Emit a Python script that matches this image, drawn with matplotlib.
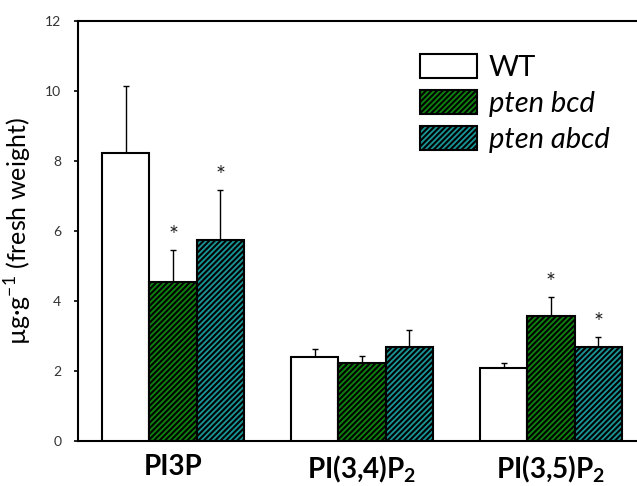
import matplotlib.pyplot as plt
import numpy as np
from matplotlib.patches import Patch

plt.rcParams['font.family'] = ['Lato', 'DejaVu Sans']
plt.rcParams['mathtext.fontset'] = 'custom'
plt.rcParams['mathtext.rm'] = 'Lato'
plt.rcParams['mathtext.bf'] = 'Lato:bold'
plt.rcParams['hatch.linewidth'] = 1.5

groups = ['PI3P', r'PI(3,4)P$_\mathbf{2}$', r'PI(3,5)P$_\mathbf{2}$']
series = ['WT', 'pten bcd', 'pten abcd']
values = {
    'WT': [8.23, 2.40, 2.09],
    'pten bcd': [4.55, 2.23, 3.57],
    'pten abcd': [5.74, 2.69, 2.69],
}
err_top = {
    'WT': [10.14, 2.63, 2.23],
    'pten bcd': [5.45, 2.43, 4.11],
    'pten abcd': [7.17, 3.17, 2.97],
}
# asterisk shown above the error bar (True) or not
signif = {
    'WT': [False, False, False],
    'pten bcd': [True, False, True],
    'pten abcd': [True, False, True],
}
colors = {'WT': 'white', 'pten bcd': '#0f840f', 'pten abcd': '#199595'}
hatches = {'WT': None, 'pten bcd': '//////', 'pten abcd': '//////'}

fig = plt.figure(figsize=(6.37, 4.86), dpi=100)
ax = fig.add_axes([78 / 637, 1 - 441 / 486, 1 - 78 / 637, 420 / 486])

x = np.arange(len(groups))
w = 0.25
for i, s in enumerate(series):
    xs = x + (i - 1) * w
    v = np.array(values[s])
    e = np.array(err_top[s]) - v
    ax.bar(xs, v, w, color=colors[s], edgecolor='black', linewidth=1.5,
           hatch=hatches[s], zorder=3)
    ax.errorbar(xs, v, yerr=[np.zeros_like(e), e], fmt='none', ecolor='black',
                elinewidth=1.0, capsize=2.5, capthick=1.0, zorder=2)
    for xi, top, sg in zip(xs, err_top[s], signif[s]):
        if sg:
            ax.text(xi, top + 0.12, '*', ha='center', va='bottom', fontsize=17,
                    color='#222222')

ax.set_xlim(-0.503, 2.455)
ax.set_ylim(0, 12)
ax.set_yticks([0, 2, 4, 6, 8, 10, 12])
ax.tick_params(axis='y', direction='out', length=3, width=1.2, labelsize=10,
               labelcolor='#333333', pad=9)
ax.set_xticks(x)
ax.set_xticklabels(groups, fontsize=20, fontweight='bold')
ax.tick_params(axis='x', length=0, pad=9)
ax.set_ylabel(r'µg·g$^{-1}$ (fresh weight)', fontsize=18, labelpad=8)

for sp in ['left', 'top', 'bottom']:
    ax.spines[sp].set_linewidth(1.5)
ax.spines['right'].set_visible(False)

handles = [Patch(facecolor=colors[s], edgecolor='black', linewidth=1.5,
                 hatch=hatches[s]) for s in series]
leg = ax.legend(handles, series, loc='upper left',
                bbox_to_anchor=(420 / 637, 1 - 54 / 486),
                bbox_transform=fig.transFigure, frameon=False, fontsize=21,
                handlelength=1.95, handleheight=0.9, handletextpad=0.4,
                labelspacing=0.3, borderpad=0, borderaxespad=0)
for t in leg.get_texts()[1:]:
    t.set_fontstyle('italic')

fig.savefig('out.png', dpi=100)
